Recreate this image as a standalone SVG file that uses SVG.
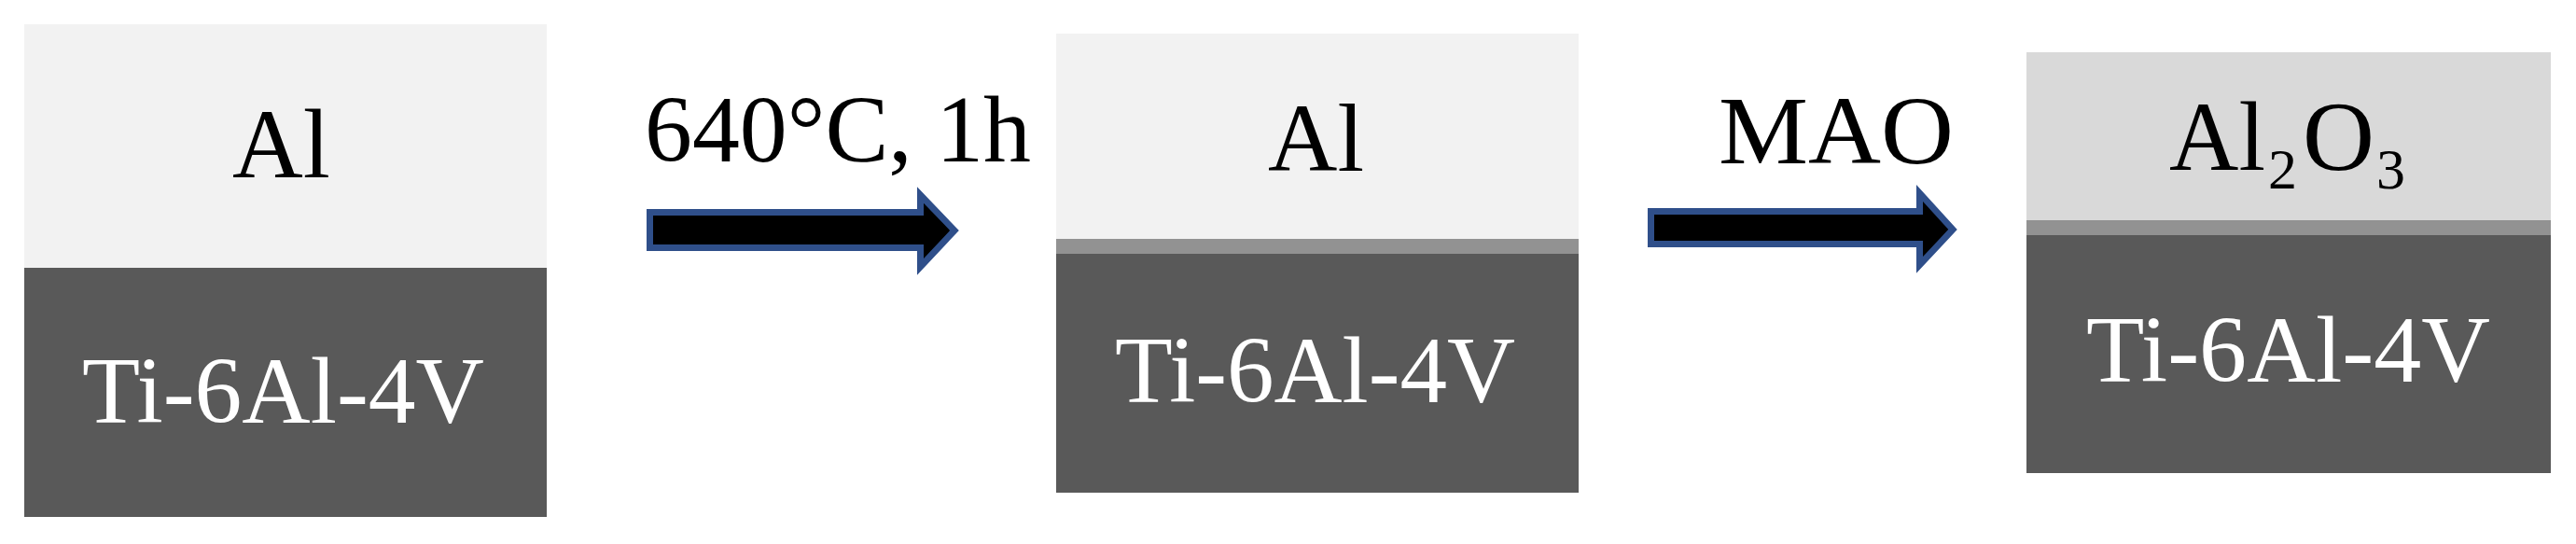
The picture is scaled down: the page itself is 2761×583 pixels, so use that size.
<svg xmlns="http://www.w3.org/2000/svg" width="2761" height="583" viewBox="0 0 2761 583">
<style>
.t{font-family:"Liberation Serif","Times New Roman",serif;}
.dk{fill:#000000;}
.wt{fill:#ffffff;}
.light{fill:#f2f2f2;}
.oxide{fill:#d9d9d9;}
.base{fill:#595959;}
.inter{fill:#929292;}
.arrow{fill:#000000;stroke:#2f4f8a;stroke-width:7;stroke-linejoin:miter;}
</style>
<rect width="2761" height="583" fill="#ffffff"/>
<g id="node-initial">
<rect class="light" x="26" y="26" width="560" height="261"/>
<rect class="base" x="26" y="287" width="560" height="267"/>
<text class="t dk" x="249" y="190" font-size="106" textLength="105" lengthAdjust="spacingAndGlyphs">Al</text>
<text class="t wt" x="88" y="453" font-size="101" textLength="431" lengthAdjust="spacingAndGlyphs">Ti-6Al-4V</text>
</g>
<g id="node-annealed">
<rect class="light" x="1132" y="36" width="560" height="221"/>
<rect class="inter" x="1132" y="256" width="560" height="16"/>
<rect class="base" x="1132" y="272" width="560" height="256"/>
<text class="t dk" x="1359" y="183" font-size="104" textLength="103" lengthAdjust="spacingAndGlyphs">Al</text>
<text class="t wt" x="1195" y="431" font-size="101" textLength="429" lengthAdjust="spacingAndGlyphs">Ti-6Al-4V</text>
</g>
<g id="node-mao">
<rect class="oxide" x="2172" y="56" width="562" height="181"/>
<rect class="inter" x="2172" y="236" width="562" height="16"/>
<rect class="base" x="2172" y="252" width="562" height="255"/>
<text class="t dk" font-size="106"><tspan x="2325" y="182" textLength="103" lengthAdjust="spacingAndGlyphs">Al</tspan><tspan x="2431" y="202" font-size="62">2</tspan><tspan x="2468" y="182" textLength="77" lengthAdjust="spacingAndGlyphs">O</tspan><tspan x="2547" y="202" font-size="62">3</tspan></text>
<text class="t wt" x="2236" y="409" font-size="101" textLength="433" lengthAdjust="spacingAndGlyphs">Ti-6Al-4V</text>
</g>
<g id="connectors">
<polygon class="arrow" points="696.5,227.5 986.5,227.5 986.5,209 1023,247 986.5,286 986.5,265.5 696.5,265.5"/>
<text class="t dk" x="691" y="173" font-size="101" textLength="414" lengthAdjust="spacingAndGlyphs">640°C, 1h</text>
<polygon class="arrow" points="1769.5,226.5 2057.5,226.5 2057.5,207 2093,246 2057.5,284 2057.5,261.5 1769.5,261.5"/>
<text class="t dk" x="1842" y="175" font-size="104" textLength="252" lengthAdjust="spacingAndGlyphs">MAO</text>
</g>
</svg>
